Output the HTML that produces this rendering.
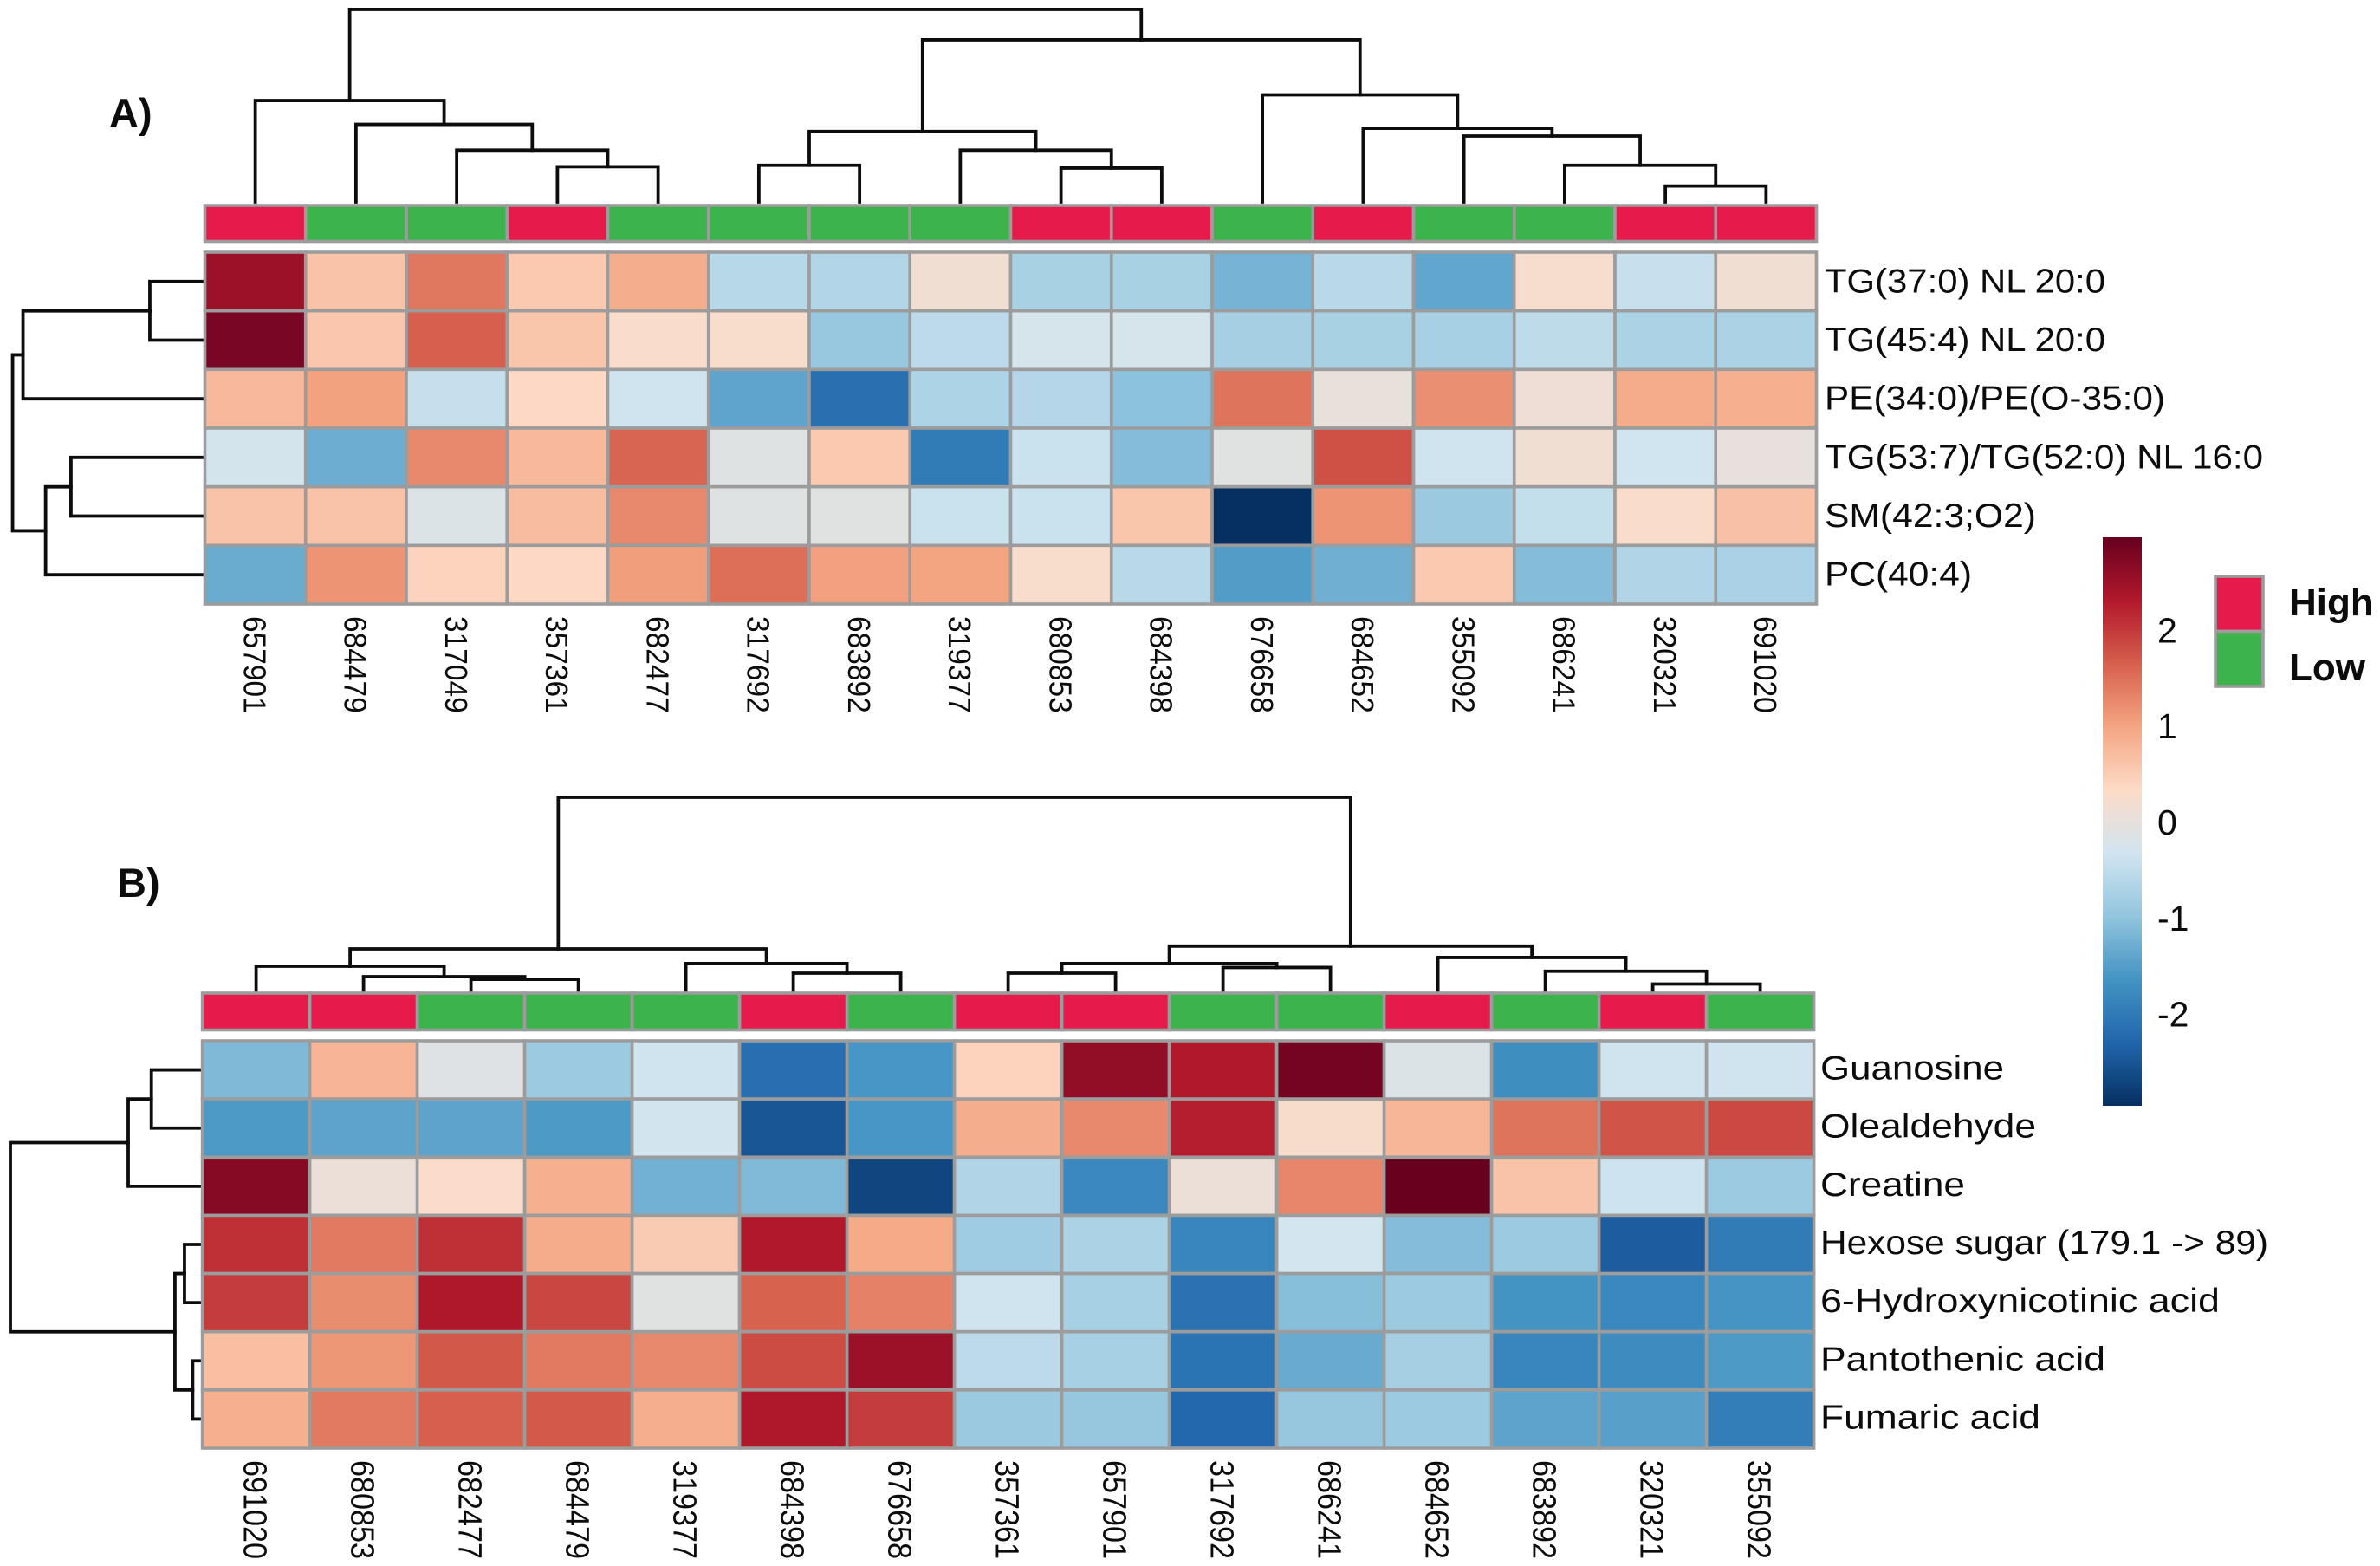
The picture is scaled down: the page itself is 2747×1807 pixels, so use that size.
<!DOCTYPE html>
<html lang="en">
<head>
<meta charset="utf-8">
<title>Clustered heatmaps</title>
<style>
html,body{margin:0;padding:0;background:#fff;width:2747px;height:1807px;overflow:hidden}
svg{display:block}
text{font-family:"Liberation Sans",sans-serif;fill:#0c0c0c}
</style>
</head>
<body>
<svg id="chart" xmlns="http://www.w3.org/2000/svg" width="2747" height="1807" viewBox="0 0 2747 1807">
  <rect width="2747" height="1807" fill="#fff"/>
</svg>
<script>
const samplesA = ["657901","684479","317049","357361","682477","317692","683892","319377","680853","684398","676658","684652","355092","686241","320321","691020"];
const featuresA = ["TG(37:0) NL 20:0","TG(45:4) NL 20:0","PE(34:0)/PE(O-35:0)","TG(53:7)/TG(52:0) NL 16:0","SM(42:3;O2)","PC(40:4)"];
const groupsA = ["High","Low","Low","High","Low","Low","Low","Low","High","High","Low","High","Low","Low","High","High"];
const valuesA = [
  [2.5,0.62,1.42,0.55,0.88,-0.6,-0.65,0.15,-0.75,-0.75,-1.22,-0.58,-1.4,0.22,-0.43,0.14],
  [2.8,0.58,1.64,0.6,0.28,0.25,-0.92,-0.55,-0.25,-0.25,-0.78,-0.75,-0.77,-0.53,-0.72,-0.72],
  [0.75,1.02,-0.45,0.36,-0.35,-1.42,-2.15,-0.7,-0.63,-1.03,1.45,0.02,1.2,0.1,0.9,0.85],
  [-0.28,-1.3,1.25,0.75,1.6,-0.12,0.55,-2.0,-0.4,-1.1,-0.1,1.78,-0.34,0.14,-0.33,0.0],
  [0.62,0.62,-0.18,0.7,1.25,-0.12,-0.1,-0.4,-0.4,0.6,-2.96,1.15,-0.9,-0.46,0.28,0.66],
  [-1.32,1.15,0.42,0.36,1.05,1.5,1.03,1.0,0.25,-0.58,-1.52,-1.27,0.55,-1.1,-0.66,-0.74]
];
const colTreeA = [13.88,[7.31,0,[5.59,1,[3.73,2,[2.54,3,4]]]],[11.69,[5.08,[2.64,5,6],[3.73,7,[2.44,8,9]]],[7.72,10,[5.31,11,[4.75,12,[2.64,13,[1.15,14,15]]]]]]];
const rowTreeA = [13.69,[12.94,[3.79,0,1],2],[11.31,[9.48,3,4],5]];

const samplesB = ["691020","680853","682477","684479","319377","684398","676658","357361","657901","317692","686241","684652","683892","320321","355092"];
const featuresB = ["Guanosine","Olealdehyde","Creatine","Hexose sugar (179.1 -> 89)","6-Hydroxynicotinic acid","Pantothenic acid","Fumaric acid"];
const groupsB = ["High","High","Low","Low","Low","High","Low","High","High","Low","Low","High","Low","High","Low"];
const valuesB = [
  [-1.15,0.8,-0.13,-0.88,-0.34,-2.17,-1.6,0.43,2.58,2.3,2.85,-0.18,-1.72,-0.35,-0.35],
  [-1.55,-1.43,-1.43,-1.55,-0.32,-2.5,-1.6,0.88,1.25,2.25,0.26,0.78,1.45,1.75,1.85],
  [2.68,0.06,0.3,0.85,-1.25,-1.13,-2.7,-0.66,-1.8,0.07,1.28,2.96,0.62,-0.37,-0.88],
  [2.08,1.4,2.08,0.9,0.52,2.3,0.93,-0.85,-0.72,-1.83,-0.3,-1.1,-0.88,-2.42,-2.0],
  [1.97,1.22,2.33,1.88,-0.1,1.63,1.33,-0.35,-0.77,-2.13,-1.08,-0.88,-1.65,-1.8,-1.63],
  [0.67,1.12,1.72,1.4,1.25,1.83,2.5,-0.55,-0.77,-2.1,-1.33,-0.78,-1.83,-1.75,-1.55],
  [0.85,1.4,1.65,1.7,0.87,2.33,1.97,-0.9,-0.95,-2.27,-0.95,-0.88,-1.43,-1.47,-1.95]
];
const colTreeB = [13.94,[3.0,[1.75,0,[1.0,1,[0.81,2,3]]],[1.94,4,[1.25,5,6]]],[3.2,[1.94,[1.25,7,8],[1.66,9,10]],[2.38,11,[1.39,12,[0.47,13,14]]]]];
const rowTreeB = [13.75,[5.25,[3.58,0,1],2],[1.88,[1.19,3,4],[0.6,5,6]]];

const colorbarTicks = [2,1,0,-1,-2];
const colorbarMin = -2.96;
const colorbarMax = 2.96;
const paletteStops = ["#053061","#2166AC","#4393C3","#92C5DE","#D1E5F0","#FDDBC7","#F4A582","#D6604D","#B2182B","#67001F"];
const groupNames = ["High","Low"];
const groupColors = {High:"#E61A4B",Low:"#3CB44B"};

const NS = "http://www.w3.org/2000/svg";
const svg = document.getElementById("chart");
const GRID = "#9C9C9C";

function make(tag, attrs, parent, text) {
  const el = document.createElementNS(NS, tag);
  for (const k in attrs) el.setAttribute(k, attrs[k]);
  if (text !== undefined) el.textContent = text;
  (parent || svg).appendChild(el);
  return el;
}
function hexToRgb(h) {
  return [parseInt(h.slice(1,3),16),parseInt(h.slice(3,5),16),parseInt(h.slice(5,7),16)];
}
function colorFor(v) {
  const t = Math.max(0, Math.min(1, (v - colorbarMin) / (colorbarMax - colorbarMin))) * (paletteStops.length - 1);
  const i = Math.min(paletteStops.length - 2, Math.floor(t));
  const f = t - i;
  const a = hexToRgb(paletteStops[i]);
  const b = hexToRgb(paletteStops[i + 1]);
  const c = a.map((x, n) => Math.round(x + (b[n] - x) * f));
  return "rgb(" + c.join(",") + ")";
}

function drawTree(node, leafPos, heightPos, horizontal, parent, prefix) {
  if (!Array.isArray(node)) return { pos: leafPos(node), at: heightPos(0) };
  const a = drawTree(node[1], leafPos, heightPos, horizontal, parent, prefix);
  const b = drawTree(node[2], leafPos, heightPos, horizontal, parent, prefix);
  const h = heightPos(node[0]);
  const d = horizontal
    ? "M" + a.at + " " + a.pos + "H" + h + "V" + b.pos + "H" + b.at
    : "M" + a.pos + " " + a.at + "V" + h + "H" + b.pos + "V" + b.at;
  const p = make("path", { d: d, fill: "none", stroke: "#0c0c0c", "stroke-width": 3.8, "stroke-linecap": "square" }, parent);
  
  
  return { pos: (a.pos + b.pos) / 2, at: h };
}

function drawPanel(cfg) {
  const g = make("g", {});
  
  
  const nCols = cfg.samples.length;
  const nRows = cfg.features.length;
  const cw = (cfg.x1 - cfg.x0) / nCols;
  const rh = (cfg.y1 - cfg.y0) / nRows;
  const colX = i => cfg.x0 + cw * i;
  const rowY = j => cfg.y0 + rh * j;
  const colC = i => colX(i) + cw / 2;
  const rowC = j => rowY(j) + rh / 2;

  const colDend = make("g", {}, g);
  
  
  drawTree(cfg.colTree, colC, h => cfg.colLeafY - h * 16, false, colDend, 'column-dendrogram');

  const rowDend = make("g", {}, g);
  
  
  drawTree(cfg.rowTree, rowC, h => cfg.rowLeafX - h * 16, true, rowDend, 'row-dendrogram');

  cfg.groups.forEach((grp, i) => {
    const r = make("rect", { x: colX(i), y: cfg.annY0, width: cw, height: cfg.annY1 - cfg.annY0, fill: groupColors[grp], stroke: GRID, "stroke-width": 3.6 }, g);
    
    
  });

  cfg.values.forEach((row, j) => {
    row.forEach((v, i) => {
      const r = make("rect", { x: colX(i), y: rowY(j), width: cw, height: rh, fill: colorFor(v), stroke: GRID, "stroke-width": 3.6 }, g);
      
      
    });
  });

  cfg.features.forEach((label, j) => {
    const t = make("text", { x: cfg.labelX, y: rowC(j) + cfg.labelDy, "font-size": 39, textLength: cfg.labelWidths[j], lengthAdjust: "spacingAndGlyphs" }, g, label);
    
    
  });

  cfg.samples.forEach((label, i) => {
    const t = make("text", { transform: "translate(" + (colC(i) - cfg.tickHalf) + " " + cfg.tickY + ") rotate(90) scale(" + cfg.tickScale + " 1)", "font-size": cfg.tickSize }, g, label);
    
    
  });

  const title = make("text", { x: cfg.titleX, y: cfg.titleY, "font-size": 47, "font-weight": "bold" }, g, cfg.title);
  
  
}

drawPanel({
  name: "panel-a", title: "A)", titleX: 126, titleY: 147,
  samples: samplesA, features: featuresA, groups: groupsA, values: valuesA,
  colTree: colTreeA, rowTree: rowTreeA,
  x0: 236.5, x1: 2096.5, y0: 291, y1: 697,
  annY0: 237, annY1: 278.5, colLeafY: 233, rowLeafX: 233.6,
  labelX: 2106, labelDy: 12.5, labelWidths: [324,324,393,506,244,170],
  tickY: 711, tickHalf: 13.3, tickSize: 36, tickScale: 0.93
});
drawPanel({
  name: "panel-b", title: "B)", titleX: 135, titleY: 1035,
  samples: samplesB, features: featuresB, groups: groupsB, values: valuesB,
  colTree: colTreeB, rowTree: rowTreeB,
  x0: 233.6, x1: 2093.6, y0: 1201, y1: 1671,
  annY0: 1146, annY1: 1188.5, colLeafY: 1143, rowLeafX: 232,
  labelX: 2101, labelDy: 11, labelWidths: [212,249,167,517,461,329,254],
  tickY: 1685, tickHalf: 14, tickSize: 38, tickScale: 0.9
});

// colour bar
const barTop = 620, barBottom = 1276, barX = 2427, barW = 45;
const barY = v => barTop + (colorbarMax - v) / (colorbarMax - colorbarMin) * (barBottom - barTop);
const defs = make("defs", {});
const grad = make("linearGradient", { id: "cbar", x1: 0, y1: 1, x2: 0, y2: 0 }, defs);
paletteStops.forEach((c, i) => {
  make("stop", { offset: i / (paletteStops.length - 1), "stop-color": c }, grad);
});
const bar = make("rect", { x: barX, y: barTop, width: barW, height: barBottom - barTop, fill: "url(#cbar)" });


colorbarTicks.forEach(v => {
  const t = make("text", { x: 2490, y: barY(v) + 15, "font-size": 41 }, svg, String(v));
  
  
});

// group legend
const legX = 2557, legW = 55, legTop = 665, legH = 63.5;
groupNames.forEach((name, i) => {
  const r = make("rect", { x: legX, y: legTop + legH * i, width: legW, height: legH, fill: groupColors[name], stroke: GRID, "stroke-width": 3.6 });
  
  
  const t = make("text", { x: 2642, y: 710 + 75 * i, "font-size": 44, "font-weight": "bold" }, svg, name);
  
  
});
</script>
</body>
</html>
